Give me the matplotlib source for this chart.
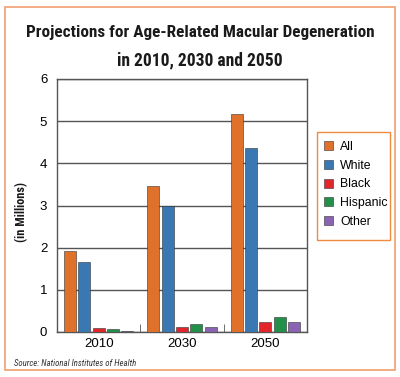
import numpy as np
import matplotlib.pyplot as plt
from matplotlib.patches import Rectangle
from matplotlib import font_manager

years = ['2010', '2030', '2050']
groups = ['All', 'White', 'Black', 'Hispanic', 'Other']
values = {
    'All':      [1.93, 3.47, 5.18],
    'White':    [1.67, 3.00, 4.37],
    'Black':    [0.09, 0.13, 0.23],
    'Hispanic': [0.07, 0.19, 0.36],
    'Other':    [0.03, 0.12, 0.23],
}
colors = ['#E0712B', '#3A78B4', '#E2242B', '#23904A', '#8A63B4']

plt.rcParams['font.family'] = ['Liberation Sans', 'DejaVu Sans']

# pick a narrow family if one is installed
installed = {f.name for f in font_manager.fontManager.ttflist}
narrow = 'DejaVu Sans'
for cand in ['Roboto Condensed', 'Archivo Narrow', 'PT Sans Narrow', 'Liberation Sans Narrow',
             'Open Sans Condensed', 'IBM Plex Sans Condensed', 'Fira Sans Condensed', 'Barlow Condensed']:
    if cand in installed:
        narrow = cand
        break

W, H = 400, 377
fig = plt.figure(figsize=(W / 100, H / 100), dpi=100)
fig.patch.set_facecolor('white')

# orange frame around everything
fig.add_artist(Rectangle((5 / W, 7 / H), 390 / W, 363 / H, transform=fig.transFigure,
                         fill=False, edgecolor='#F0A070', linewidth=1.2))

cond = dict(family=narrow, fontstretch='condensed', fontweight='bold', color='#1a1a1a')
t1 = fig.text(0.5, 1 - 32 / H, 'Projections for Age-Related Macular Degeneration',
              ha='center', va='center', fontsize=13, **cond)
t2 = fig.text(0.5, 1 - 60 / H, 'in 2010, 2030 and 2050',
              ha='center', va='center', fontsize=13, **cond)

ax = fig.add_axes([57 / W, 1 - 332 / H, 250 / W, 253 / H])
x = np.arange(len(years))
step = 0.172
bw = 0.145
for i, g in enumerate(groups):
    ax.bar(x + (i - 2) * step, values[g], width=bw, color=colors[i],
           edgecolor='#333333', linewidth=0.4, label=g, zorder=3)

ax.set_xlim(-0.5, 2.5)
ax.set_ylim(0, 6)
ax.set_yticks(range(7))
ax.set_xticks(x)
ax.set_xticklabels(years)
ax.set_xticks([0.5, 1.5], minor=True)
ax.tick_params(axis='x', which='major', length=0, pad=4, labelsize=9.5)
ax.tick_params(axis='x', which='minor', direction='in', length=6, color='#555555')
ax.tick_params(axis='y', length=0, pad=7, labelsize=9.5)
ax.yaxis.grid(True, color='#555555', linewidth=1.0, zorder=0)
for s in ax.spines.values():
    s.set_color('#555555')
    s.set_linewidth(1.0)

ylab = fig.text(22 / W, 1 - 212 / H, '(in Millions)', rotation=90, ha='center', va='center',
                fontsize=9, **cond)

# legend: entries without frame, box drawn separately (reference box has spare room below)
leg = fig.legend(loc='upper left', bbox_to_anchor=(324 / W, 1 - 141 / H), frameon=False,
                 fontsize=8.8, handlelength=0.75, handleheight=0.75, handletextpad=0.55,
                 labelspacing=0.55, borderpad=0, borderaxespad=0)
fig.add_artist(Rectangle((317 / W, 1 - 240 / H), 73 / W, 108 / H, transform=fig.transFigure,
                         fill=False, edgecolor='#F08A40', linewidth=1.0))

src = fig.text(14 / W, 1 - 363 / H, 'Source: National Institutes of Health', ha='left', va='center',
               fontsize=7, style='italic', family=narrow, fontstretch='condensed', color='#333333')

# fit text widths to the reference
fig.canvas.draw()
r = fig.canvas.get_renderer()
for t, target in [(t1, 345), (t2, 165), (src, 123)]:
    w = t.get_window_extent(r).width
    t.set_fontsize(t.get_fontsize() * target / w)
w = ylab.get_window_extent(r).height
ylab.set_fontsize(ylab.get_fontsize() * 60 / w)

fig.savefig('out.png', dpi=100)
